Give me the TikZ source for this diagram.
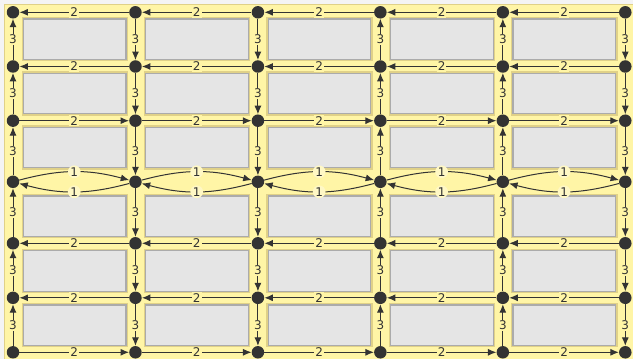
\documentclass[tikz,border=0pt]{standalone}
\usepackage{fontspec}
\setmainfont{DejaVu Sans}
\usetikzlibrary{arrows.meta}
\definecolor{paper}{HTML}{F4F4F4}
\definecolor{street}{HTML}{FFF5A6}
\definecolor{streetline}{HTML}{E0D188}
\definecolor{blockfill}{HTML}{E5E5E5}
\definecolor{blockline}{HTML}{ABABAB}
\definecolor{dotdark}{HTML}{333333}
\tikzset{
  crossing/.style={circle, fill=dotdark, draw=none, minimum size=12.5pt, inner sep=0pt},
  block/.style={fill=blockfill, draw=blockline, line width=1.3pt,
    preaction={draw=streetline, line width=3.6pt}},
  lab/.style={fill=street, inner sep=1pt, text=dotdark,
    font=\fontsize{12pt}{14pt}\selectfont},
  labone/.style={circle, fill=street!65!white, inner sep=0.4pt, text=dotdark,
    font=\fontsize{12pt}{14pt}\selectfont},
  arrtwo/.style={-{Latex[length=8.5pt, width=7pt]}, line width=1pt, dotdark},
  arrthree/.style={-{Latex[length=8.5pt, width=7pt]}, line width=1pt, dotdark},
  arrone/.style={-{Latex[length=8.5pt, width=7pt]}, line width=1pt, dotdark, bend left=15},
}

\begin{document}
\begin{tikzpicture}[x=1pt, y=1pt]
\useasboundingbox (0,0) rectangle (633,359);

% ---------------- GROUND ----------------
\fill[paper] (0,0) rectangle (633,359);
\draw[streetline, fill=street, line width=1pt] (4.5,-10) rectangle (645,354.5);

% ---------------- BLOCKS ----------------
\foreach \t in {340,285.7,231.7,163,108.3,54}
  \foreach \c in {0,...,4}
    \draw[block] ({23.3+122.46*\c},\t) rectangle ++(102.6,-40.5);

% ---------------- CROSSINGS ----------------
\foreach \r/\y in {0/346.7, 1/292.5, 2/238.3, 3/177.2, 4/115.7, 5/61.2, 6/6.7}
  \foreach \c in {0,...,5}
    \node[crossing] (n-\r-\c) at ({13+122.46*\c},\y) {};

% ================= HORIZONTAL STREETS =================
% westbound
\foreach \r in {0,1,4,5}
  \foreach \c [count=\d] in {0,...,4}
    \draw[arrtwo] (n-\r-\d) -- node[lab] {2} (n-\r-\c);
% eastbound
\foreach \r in {2,6}
  \foreach \c [count=\d] in {0,...,4}
    \draw[arrtwo] (n-\r-\c) -- node[lab] {2} (n-\r-\d);
% ---- two-way avenue ----
\foreach \c [count=\d] in {0,...,4} {
  \draw[arrone] (n-3-\c) to node[labone] {1} (n-3-\d);
  \draw[arrone] (n-3-\d) to node[labone] {1} (n-3-\c);
}

% ================= VERTICAL STREETS =================
% northbound
\foreach \c in {0,3,4}
  \foreach \r [count=\s] in {0,...,5}
    \draw[arrthree] (n-\s-\c) -- node[lab] {3} (n-\r-\c);
% southbound
\foreach \c in {1,2,5}
  \foreach \r [count=\s] in {0,...,5}
    \draw[arrthree] (n-\r-\c) -- node[lab] {3} (n-\s-\c);

\end{tikzpicture}
\end{document}
